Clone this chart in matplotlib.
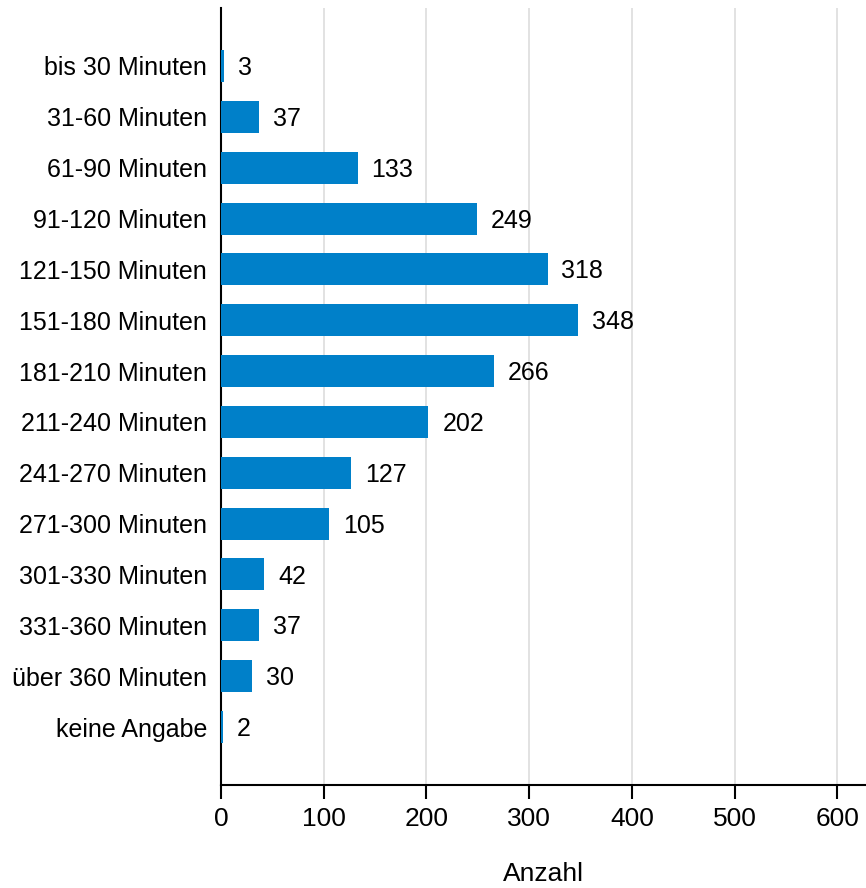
import matplotlib
matplotlib.use("Agg")
import matplotlib.pyplot as plt

categories = ["bis 30 Minuten", "31-60 Minuten", "61-90 Minuten", "91-120 Minuten",
              "121-150 Minuten", "151-180 Minuten", "181-210 Minuten", "211-240 Minuten",
              "241-270 Minuten", "271-300 Minuten", "301-330 Minuten", "331-360 Minuten",
              "über 360 Minuten", "keine Angabe"]
values = [3, 37, 133, 249, 318, 348, 266, 202, 127, 105, 42, 37, 30, 2]
xticks = [0, 100, 200, 300, 400, 500, 600]
xlabel = "Anzahl"

plt.rcParams['font.family'] = ['Liberation Sans', 'DejaVu Sans']

fig = plt.figure(figsize=(8.66, 8.88), dpi=100)
ax = fig.add_axes([221/866, 103/888, 645/866, 777/888])

y = list(range(len(categories)))
ax.barh(y, values, height=0.63, color="#0080C9", zorder=3)
for yi, v in zip(y, values):
    ax.annotate(str(v), (v, yi), xytext=(10, -1.5), textcoords="offset points",
                va="center", ha="left", fontsize=18, color="black")

ax.set_yticks(y)
ax.set_yticklabels(categories, fontsize=18)
for lbl in ax.get_yticklabels():
    lbl.set_verticalalignment("center_baseline")
ax.set_ylim(len(categories) - 1 + 1.14, -1.14)
ax.set_xlim(0, 628)
ax.set_xticks(xticks)
ax.set_xticklabels([str(t) for t in xticks], fontsize=19)
ax.set_xlabel(xlabel, fontsize=19, labelpad=22)

ax.tick_params(axis='y', length=0, pad=10)
ax.tick_params(axis='x', length=10, width=1.5, direction='out', pad=6)
ax.grid(axis='x', color="#dddddd", linewidth=1.2, zorder=0)
ax.set_axisbelow(True)
for s in ["top", "right"]:
    ax.spines[s].set_visible(False)
for s in ["left", "bottom"]:
    ax.spines[s].set_linewidth(1.5)
    ax.spines[s].set_color("black")

fig.savefig("out.png", dpi=100)
